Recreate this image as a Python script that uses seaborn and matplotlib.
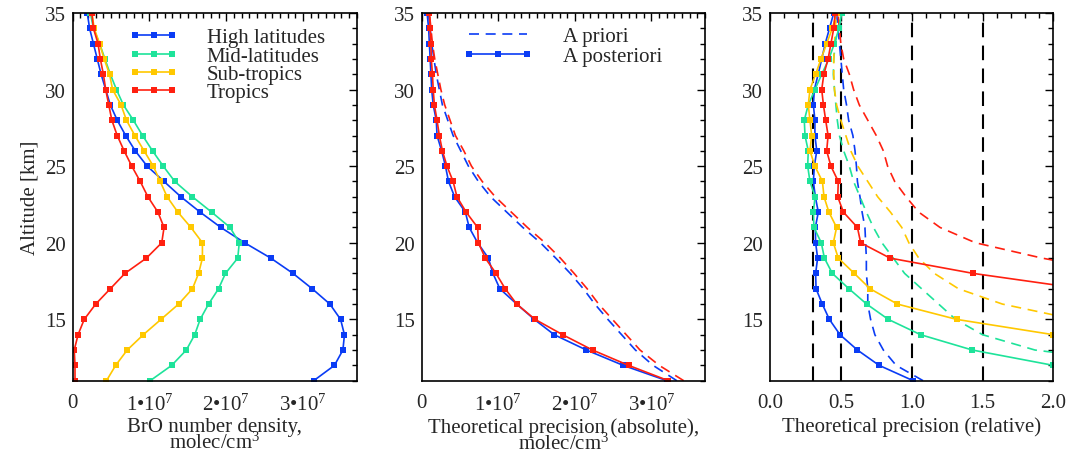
import matplotlib
matplotlib.use('Agg')
import matplotlib.pyplot as plt
import numpy as np
import pandas as pd
import seaborn as sns
from matplotlib.lines import Line2D
from matplotlib.ticker import MultipleLocator, FixedLocator, FixedFormatter

sns.set_theme(style='white')
plt.rcParams['font.family'] = ['Liberation Serif', 'DejaVu Serif']
plt.rcParams['mathtext.fontset'] = 'custom'
plt.rcParams['mathtext.rm'] = 'Liberation Serif'
fontsize = 15
legend_fs = 15

nan = np.nan
alt = list(range(11, 36))
regions = ['High latitudes', 'Mid-latitudes', 'Sub-tropics', 'Tropics']
colors = ['#0a3cf5', '#1ee39a', '#ffc800', '#ff2010']

# BrO number density, units of 1e7 molec/cm3
dens_high = [3.14, 3.41, 3.52, 3.54, 3.49, 3.35, 3.12, 2.87, 2.58, 2.24, 1.93, 1.66, 1.41,
             1.19, 0.97, 0.815, 0.69, 0.58, 0.49, 0.43, 0.37, 0.32, 0.27, 0.22, 0.19]
dens_mid = [1.01, 1.29, 1.48, 1.59, 1.66, 1.77, 1.90, 1.99, 2.15, 2.17, 2.05, 1.81, 1.56,
            1.33, 1.18, 1.04, 0.91, 0.79, 0.66, 0.57, 0.49, 0.42, 0.35, 0.27, 0.23]
dens_sub = [0.44, 0.56, 0.71, 0.92, 1.15, 1.38, 1.56, 1.64, 1.69, 1.69, 1.54, 1.37, 1.23,
            1.14, 1.05, 0.93, 0.81, 0.70, 0.63, 0.52, 0.48, 0.41, 0.35, 0.28, 0.25]
dens_trop = [0.03, 0.03, 0.02, 0.07, 0.15, 0.30, 0.49, 0.68, 0.96, 1.16, 1.19, 1.11, 0.98,
             0.88, 0.77, 0.67, 0.58, 0.51, 0.47, 0.43, 0.40, 0.36, 0.33, 0.27, 0.25]

# absolute precision, units of 1e7 molec/cm3 (high latitudes and tropics)
post_high = [3.20, 2.63, 2.15, 1.73, 1.47, 1.24, 1.02, 0.93, 0.87, 0.73, 0.62, 0.57, 0.43,
             0.35, 0.31, 0.26, 0.20, 0.19, 0.15, 0.13, 0.12, 0.11, 0.10, 0.09, 0.07]
post_trop = [3.22, 2.70, 2.23, 1.84, 1.48, 1.24, 1.09, 0.97, 0.83, 0.74, 0.73, 0.58, 0.46,
             0.41, 0.33, 0.27, 0.23, 0.20, 0.165, 0.15, 0.14, 0.125, 0.12, 0.11, 0.10]
prior_high = [3.33, 3.02, 2.79, 2.61, 2.43, 2.26, 2.11, 1.94, 1.75, 1.55, 1.32, 1.11, 0.90,
              0.74, 0.61, 0.51, 0.41, 0.34, 0.27, 0.23, 0.19, 0.16, 0.13, 0.11, 0.09]
prior_trop = [3.42, 3.10, 2.85, 2.67, 2.49, 2.31, 2.16, 1.99, 1.81, 1.61, 1.38, 1.17, 0.96,
              0.79, 0.65, 0.55, 0.44, 0.37, 0.30, 0.25, 0.21, 0.17, 0.14, 0.12, 0.10]

# relative precision, a posteriori (solid) and a priori (dashed)
rel_high = [1.01, 0.77, 0.617, 0.494, 0.419, 0.369, 0.325, 0.322, 0.336, 0.322, 0.32, 0.341, 0.32,
            0.306, 0.313, 0.33, 0.317, 0.317, 0.306, 0.313, 0.34, 0.365, 0.39, 0.42, 0.45]
rel_mid = [nan, 1.999, 1.428, 1.063, 0.835, 0.682, 0.557, 0.44, 0.384, 0.362, 0.31, 0.306, 0.318,
           0.282, 0.266, 0.27, 0.247, 0.242, 0.27, 0.317, 0.365, 0.416, 0.454, 0.487, 0.506]
rel_sub = [nan, nan, nan, 2.0, 1.317, 0.899, 0.706, 0.595, 0.482, 0.447, 0.47, 0.416, 0.381,
           0.37, 0.317, 0.282, 0.294, 0.282, 0.27, 0.282, 0.322, 0.36, 0.40, 0.44, 0.47]
rel_trop = [nan, nan, nan, nan, nan, nan, 2.2, 1.435, 0.847, 0.64, 0.617, 0.518, 0.478,
            0.482, 0.43, 0.40, 0.41, 0.393, 0.377, 0.365, 0.38, 0.41, 0.43, 0.45, 0.46]
prel_high = [1.08, 0.89, 0.80, 0.74, 0.71, 0.69, 0.69, 0.68, 0.68, 0.675, 0.67, 0.65, 0.635,
             0.617, 0.61, 0.60, 0.585, 0.555, 0.54, 0.52, 0.51, 0.50, 0.49, 0.48, 0.47]
prel_mid = [nan, 2.74, 1.87, 1.50, 1.31, 1.19, 1.07, 0.95, 0.87, 0.79, 0.73, 0.68, 0.635,
            0.59, 0.56, 0.52, 0.49, 0.475, 0.465, 0.455, 0.447, 0.45, 0.46, 0.48, 0.50]
prel_sub = [nan, nan, nan, nan, 2.15, 1.64, 1.33, 1.16, 1.05, 0.98, 0.93, 0.85, 0.76,
            0.69, 0.62, 0.57, 0.535, 0.50, 0.47, 0.455, 0.45, 0.45, 0.455, 0.46, 0.47]
prel_trop = [nan, nan, nan, nan, nan, nan, nan, 2.5, 1.92, 1.45, 1.20, 1.05, 0.96,
             0.88, 0.83, 0.80, 0.75, 0.69, 0.63, 0.59, 0.56, 0.52, 0.50, 0.49, 0.48]
ref_lines = [0.3, 0.5, 1.0, 1.5]

sci_ticks = [0, 1e7, 2e7, 3e7]
sci_labels = ['0', '1\u202210$\\mathregular{^7}$', '2\u202210$\\mathregular{^7}$',
              '3\u202210$\\mathregular{^7}$']

msize = 5
line_kw = dict(lw=1.2, marker='s', markersize=msize, markeredgewidth=0, sort=False,
               orient='y', estimator=None)
dash_style = (0, (6, 4))

fig = plt.figure(figsize=(10.69, 4.56), dpi=100)
axes = [fig.add_axes([0.068, 0.163, 0.2657, 0.8064]),
        fig.add_axes([0.3945, 0.163, 0.2651, 0.8064]),
        fig.add_axes([0.7203, 0.163, 0.2651, 0.8064])]

# Panel 1: number density
ax = axes[0]
for vals, c in zip([dens_high, dens_mid, dens_sub, dens_trop], colors):
    sns.lineplot(x=np.array(vals) * 1e7, y=alt, color=c, ax=ax, **line_kw)
handles = [Line2D([], [], color=c, lw=1.2, marker='s', markersize=msize, markeredgewidth=0)
           for c in colors]
ax.legend(handles, regions, loc='upper left', bbox_to_anchor=(0.168, 0.982), frameon=False,
          numpoints=3, handlelength=2.4, handletextpad=1.35, labelspacing=-0.06,
          fontsize=legend_fs, borderaxespad=0)
ax.set_xlim(0, 3.7e7)
ax.set_xlabel('BrO number density,\nmolec/cm$\\mathregular{^3}$', fontsize=fontsize,
              linespacing=0.72, labelpad=2)
ax.set_ylabel('Altitude [km]', fontsize=fontsize, labelpad=4)

# Panel 2: absolute precision
ax = axes[1]
for prior, post, c in [(prior_high, post_high, colors[0]), (prior_trop, post_trop, colors[3])]:
    sns.lineplot(x=np.array(prior) * 1e7, y=alt, color=c, ax=ax, sort=False, orient='y',
                 estimator=None, lw=1.2, linestyle=dash_style)
    sns.lineplot(x=np.array(post) * 1e7, y=alt, color=c, ax=ax, **line_kw)
handles = [Line2D([], [], color=colors[0], lw=1.2, linestyle=dash_style),
           Line2D([], [], color=colors[0], lw=1.2, marker='s', markersize=msize, markeredgewidth=0)]
ax.legend(handles, ['A priori', 'A posteriori'], loc='upper left', bbox_to_anchor=(0.115, 0.986),
          frameon=False, numpoints=3, handlelength=3.4, handletextpad=1.4, labelspacing=0.04,
          fontsize=legend_fs, borderaxespad=0)
ax.set_xlim(0, 3.7e7)
ax.set_xlabel('Theoretical precision (absolute),\nmolec/cm$\\mathregular{^3}$', fontsize=fontsize,
              linespacing=0.72, labelpad=2)
ax.set_ylabel('')

# Panel 3: relative precision
ax = axes[2]
for v in ref_lines:
    ax.axvline(v, color='black', lw=1.5, linestyle=(0, (7, 4)))
for vals, c in zip([prel_high, prel_mid, prel_sub, prel_trop], colors):
    sns.lineplot(x=vals, y=alt, color=c, ax=ax, sort=False, orient='y', estimator=None,
                 lw=1.2, linestyle=dash_style)
for vals, c in zip([rel_high, rel_mid, rel_sub, rel_trop], colors):
    sns.lineplot(x=vals, y=alt, color=c, ax=ax, **line_kw)
ax.set_xlim(0, 2.0)
ax.set_xlabel('Theoretical precision (relative)', fontsize=fontsize, labelpad=3)
ax.set_ylabel('')

for i, ax in enumerate(axes):
    ax.set_ylim(11, 35)
    ax.yaxis.set_major_locator(MultipleLocator(5))
    ax.yaxis.set_minor_locator(MultipleLocator(1))
    if i < 2:
        ax.xaxis.set_major_locator(FixedLocator(sci_ticks))
        ax.xaxis.set_major_formatter(FixedFormatter(sci_labels))
        ax.xaxis.set_minor_locator(MultipleLocator(1e6))
    else:
        ax.xaxis.set_major_locator(MultipleLocator(0.5))
        ax.xaxis.set_major_formatter(plt.FormatStrFormatter('%.1f'))
        ax.xaxis.set_minor_locator(MultipleLocator(0.1))
    ax.tick_params(which='both', direction='in', top=True, right=True, width=1,
                   color='black', labelsize=fontsize)
    ax.tick_params(axis='x', which='both', pad=9)
    ax.tick_params(axis='y', which='both', pad=5)
    ax.tick_params(which='major', length=6)
    ax.tick_params(which='minor', length=3.5)
    for sp in ax.spines.values():
        sp.set_color('black')
        sp.set_linewidth(1.2)

fig.savefig('out.png', dpi=100)
